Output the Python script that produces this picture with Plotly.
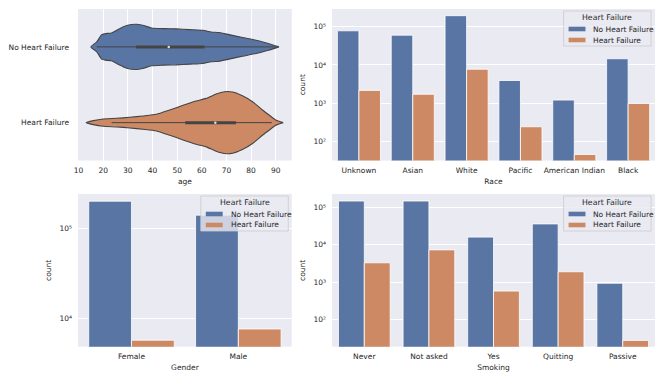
import plotly.graph_objects as go

# ---------------- data ----------------
hf_labels = ["No Heart Failure", "Heart Failure"]
legend_title = "Heart Failure"

# violin density profiles (half-width in category units)
age_no_hf = [15.0, 17.4, 19.4, 20.8, 23.4, 26.0, 29.5, 33.5, 36.0, 39.6, 44.3, 49.7, 55.0, 60.4, 63.8, 67.0, 71.0, 76.5, 82.0, 87.0, 91.3]
hw_no_hf = [0.0, 0.066, 0.162, 0.175, 0.184, 0.228, 0.281, 0.298, 0.285, 0.250, 0.241, 0.237, 0.228, 0.219, 0.197, 0.189, 0.162, 0.123, 0.088, 0.044, 0.0]
age_hf = [13.1, 16.0, 20.0, 25.5, 30.8, 36.2, 41.6, 47.0, 52.4, 57.7, 61.8, 65.8, 69.2, 72.5, 76.5, 80.6, 84.6, 87.3, 90.0, 93.0]
hw_hf = [0.0, 0.026, 0.048, 0.057, 0.070, 0.088, 0.110, 0.167, 0.228, 0.285, 0.320, 0.377, 0.408, 0.404, 0.355, 0.276, 0.167, 0.101, 0.035, 0.0]
# box stats: whisker low, q1, median, q3, whisker high
box_no_hf = [17.4, 33.3, 46.6, 61.1, 90.0]
box_hf = [23.4, 53.3, 65.5, 73.9, 88.4]

race_cats = ["Unknown", "Asian", "White", "Pacific", "American Indian", "Black"]
race_no_hf = [78000, 60000, 194000, 3900, 1200, 14500]
race_hf = [2150, 1700, 7700, 240, 45, 980]

gender_cats = ["Female", "Male"]
gender_no_hf = [200000, 140000]
gender_hf = [5700, 7600]

smoking_cats = ["Never", "Not asked", "Yes", "Quitting", "Passive"]
smoking_no_hf = [147000, 147000, 16000, 36000, 940]
smoking_hf = [3300, 7300, 580, 1900, 28]

log_ticks = [1e2, 1e3, 1e4, 1e5]
log_ticktext = ["10²", "10³", "10⁴", "10⁵"]
gender_log_ticks = [1e4, 1e5]
gender_log_ticktext = ["10⁴", "10⁵"]
age_ticks = [10, 20, 30, 40, 50, 60, 70, 80, 90]

# ---------------- style ----------------
BLUE = "#5975a4"
ORANGE = "#cc8963"
BG = "#eaeaf2"
EDGE = "#444444"
TXT = "#262626"
FONT = "DejaVu Sans"
W, H = 664, 380


def px_x(a, b):
    return [a / W, b / W]


def px_y(top, bottom):
    return [1 - bottom / H, 1 - top / H]


fig = go.Figure()

# ---------------- violin (top-left) ----------------
def add_violin(ages, hws, center, color, box):
    xs = list(ages) + list(ages[::-1])
    ys = [center - h for h in hws] + [center + h for h in hws[::-1]]
    fig.add_trace(go.Scatter(x=xs, y=ys, fill="toself", fillcolor=color,
                             mode="lines", line=dict(color=EDGE, width=1.1, shape="spline", smoothing=0.6),
                             xaxis="x", yaxis="y", hoverinfo="skip"))
    fig.add_trace(go.Scatter(x=[box[0], box[4]], y=[center, center], mode="lines",
                             line=dict(color=EDGE, width=1), xaxis="x", yaxis="y", hoverinfo="skip"))
    fig.add_trace(go.Scatter(x=[box[1], box[3]], y=[center, center], mode="lines",
                             line=dict(color=EDGE, width=3), xaxis="x", yaxis="y", hoverinfo="skip"))
    fig.add_trace(go.Scatter(x=[box[2]], y=[center], mode="markers",
                             marker=dict(color="#dddddd", size=2.5, line=dict(width=0)),
                             xaxis="x", yaxis="y", hoverinfo="skip"))


add_violin(age_no_hf, hw_no_hf, 0, BLUE, box_no_hf)
add_violin(age_hf, hw_hf, 1, ORANGE, box_hf)

# ---------------- bars ----------------
def add_bars(cats, no_hf, hf, xa, ya):
    fig.add_trace(go.Bar(x=cats, y=no_hf, name=hf_labels[0],
                         marker=dict(color=BLUE, line=dict(color="white", width=0.8)),
                         xaxis=xa, yaxis=ya, offsetgroup="a"))
    fig.add_trace(go.Bar(x=cats, y=hf, name=hf_labels[1],
                         marker=dict(color=ORANGE, line=dict(color="white", width=0.8)),
                         xaxis=xa, yaxis=ya, offsetgroup="b"))


add_bars(race_cats, race_no_hf, race_hf, "x2", "y2")
add_bars(gender_cats, gender_no_hf, gender_hf, "x3", "y3")
add_bars(smoking_cats, smoking_no_hf, smoking_hf, "x4", "y4")

# ---------------- hand-drawn legends (matplotlib-like) ----------------
shapes = []
annotations = []


def add_legend(right_px, top_px):
    wbox, hbox = 88, 35
    left = right_px - wbox
    bottom = top_px + hbox
    shapes.append(dict(type="rect", xref="paper", yref="paper",
                       x0=left / W, x1=right_px / W, y0=1 - bottom / H, y1=1 - top_px / H,
                       fillcolor="rgba(234,234,242,0.8)", line=dict(color="#cccccc", width=0.8), layer="above"))
    annotations.append(dict(text=legend_title, xref="paper", yref="paper", x=(left + wbox / 2) / W,
                            y=1 - (top_px + 6.5) / H, xanchor="center", yanchor="middle", showarrow=False,
                            font=dict(family=FONT, size=7.8, color=TXT)))
    for i, (lab, col) in enumerate(zip(hf_labels, [BLUE, ORANGE])):
        cy = top_px + 18 + i * 11
        shapes.append(dict(type="rect", xref="paper", yref="paper",
                           x0=(left + 5) / W, x1=(left + 22) / W, y0=1 - (cy + 2.3) / H, y1=1 - (cy - 2.3) / H,
                           fillcolor=col, line=dict(width=0), layer="above"))
        annotations.append(dict(text=lab, xref="paper", yref="paper", x=(left + 28) / W, y=1 - cy / H,
                                xanchor="left", yanchor="middle", showarrow=False,
                                font=dict(family=FONT, size=7.5, color=TXT)))


add_legend(651, 11)
add_legend(286, 196)
add_legend(651, 196)

tickfont = dict(family=FONT, size=7.5, color=TXT)
titlefont = dict(family=FONT, size=7.5, color=TXT)

common_x = dict(showline=False, zeroline=False, ticks="", tickfont=tickfont, title_font=titlefont,
                title_standoff=4, ticklabelstandoff=4)
common_y = dict(showline=False, zeroline=False, ticks="", tickfont=tickfont, title_font=titlefont)

top_y = px_y(9, 160.5)
bot_y = px_y(194, 346.7)
left_x = px_x(74.5, 289.5)
right_x = px_x(330, 655)

fig.update_layout(
    width=W, height=H,
    margin=dict(l=0, r=0, t=0, b=0),
    paper_bgcolor="white", plot_bgcolor=BG,
    showlegend=False,
    barmode="group", bargap=0.2, bargroupgap=0,
    font=dict(family=FONT, size=7.5, color=TXT),
    shapes=shapes, annotations=annotations,
    xaxis=dict(domain=left_x, anchor="y", range=[9.8, 96.5], tickvals=age_ticks,
               showgrid=True, gridcolor="white", gridwidth=1, title_text="age", **common_x),
    yaxis=dict(domain=top_y, anchor="x", range=[1.5, -0.5], tickvals=[0, 1], ticktext=hf_labels,
               showgrid=False, ticklabelstandoff=8, **common_y),
    xaxis2=dict(domain=right_x, anchor="y2", range=[-0.5, 5.5], showgrid=False, title_text="Race", **common_x),
    yaxis2=dict(domain=top_y, anchor="x2", type="log", range=[1.497, 5.463], tickvals=log_ticks, ticktext=log_ticktext,
                showgrid=True, gridcolor="white", gridwidth=1, title_text="count", title_standoff=6,
                ticklabelstandoff=5, **common_y),
    xaxis3=dict(domain=left_x, anchor="y3", range=[-0.5, 1.5], showgrid=False, title_text="Gender", **common_x),
    yaxis3=dict(domain=bot_y, anchor="x3", type="log", range=[3.684, 5.381], tickvals=gender_log_ticks,
                ticktext=gender_log_ticktext,
                showgrid=True, gridcolor="white", gridwidth=1, title_text="count", title_standoff=6,
                ticklabelstandoff=5, **common_y),
    xaxis4=dict(domain=right_x, anchor="y4", range=[-0.5, 4.5], showgrid=False, title_text="Smoking", **common_x),
    yaxis4=dict(domain=bot_y, anchor="x4", type="log", range=[1.279, 5.355], tickvals=log_ticks, ticktext=log_ticktext,
                showgrid=True, gridcolor="white", gridwidth=1, title_text="count", title_standoff=6,
                ticklabelstandoff=5, **common_y),
)

fig.write_html("out.html", config={"displayModeBar": False},
               post_script="document.body.style.margin='0';document.body.style.overflow='hidden';")
